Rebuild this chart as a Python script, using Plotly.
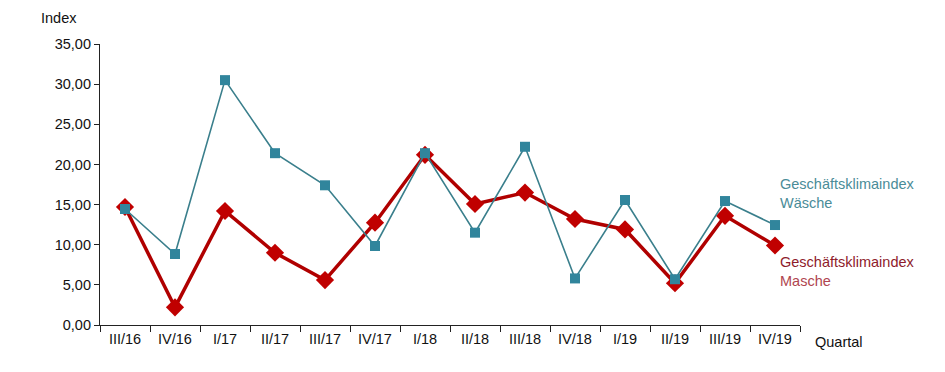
import plotly.graph_objects as go

quarters = ["III/16", "IV/16", "I/17", "II/17", "III/17", "IV/17", "I/18",
            "II/18", "III/18", "IV/18", "I/19", "II/19", "III/19", "IV/19"]
waesche = [14.45, 8.84, 30.5, 21.4, 17.4, 9.84, 21.4, 11.5, 22.2, 5.8, 15.57, 5.7, 15.44, 12.45]
masche = [14.7, 2.2, 14.2, 9.0, 5.6, 12.74, 21.2, 15.07, 16.5, 13.2, 11.9, 5.2, 13.6, 9.9]
y_ticks = [0, 5, 10, 15, 20, 25, 30, 35]

TEAL = "#31859C"
TEAL_LINE = "#3A7F8C"
RED = "#C00000"
RED_LINE = "#B00000"
FONT = "Arial, Liberation Sans, sans-serif"
FS = 14.5

fig = go.Figure()
fig.add_trace(go.Scatter(
    x=quarters, y=masche, mode="lines+markers",
    line=dict(color=RED_LINE, width=3.5),
    marker=dict(symbol="diamond", size=14, color=RED),
    showlegend=False,
))
fig.add_trace(go.Scatter(
    x=quarters, y=waesche, mode="lines+markers",
    line=dict(color=TEAL_LINE, width=1.6),
    marker=dict(symbol="square", size=10, color=TEAL),
    showlegend=False,
))

fig.update_layout(
    width=937, height=364,
    margin=dict(l=92, r=145, t=36, b=47),
    paper_bgcolor="white", plot_bgcolor="white",
    separators=",.",
    font=dict(family=FONT, size=FS, color="#111"),
    xaxis=dict(
        type="category", range=[-0.5, 13.5],
        showline=True, linecolor="#222", linewidth=1.2,
        ticks="outside", tickson="boundaries", ticklen=6, tickcolor="#222",
        showgrid=False, zeroline=False,
    ),
    yaxis=dict(
        range=[0, 35], tickvals=y_ticks, tickformat=".2f",
        showline=True, linecolor="#222", linewidth=1.2,
        ticks="outside", ticklen=5, tickcolor="#222",
        showgrid=False, zeroline=False,
    ),
    annotations=[
        dict(text="Index", xref="paper", yref="paper", x=-0.087, y=1.0925,
             xanchor="left", yanchor="middle", showarrow=False,
             font=dict(size=FS, color="#111")),
        dict(text="Quartal", xref="paper", yref="paper", x=1.018, y=-0.0605,
             xanchor="left", yanchor="middle", showarrow=False,
             font=dict(size=FS, color="#111")),
        dict(text="Geschäftsklimaindex<br>Wäsche", xref="paper", yref="paper",
             x=0.968, y=0.468, xanchor="left", yanchor="middle", align="left",
             showarrow=False, font=dict(size=FS, color="#4A8C98")),
        dict(text="<span style='color:#8E1B2B'>Geschäftsklimaindex</span><br>"
                  "<span style='color:#B0454F'>Masche</span>",
             xref="paper", yref="paper",
             x=0.968, y=0.19, xanchor="left", yanchor="middle", align="left",
             showarrow=False, font=dict(size=FS, color="#8E1B2B")),
    ],
)

fig.write_html("out.html")
